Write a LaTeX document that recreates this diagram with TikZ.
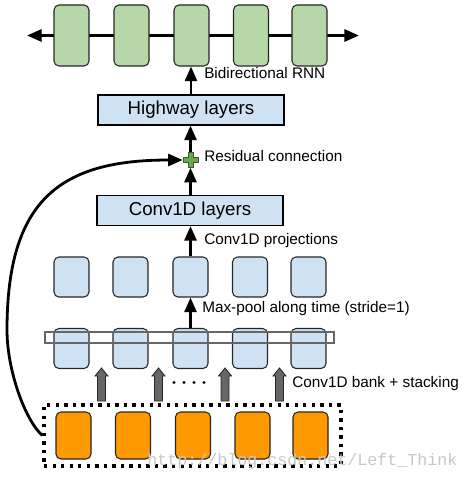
\documentclass[tikz,border=0pt]{standalone}
\usepackage{fontspec}
\setmainfont{Liberation Sans}
\newfontfamily\wmfont{Liberation Mono}
\usetikzlibrary{arrows.meta}
\definecolor{rnngreen}{HTML}{B6D7A8}
\definecolor{convblue}{HTML}{CFE2F3}
\definecolor{embor}{HTML}{FF9900}
\definecolor{pluscol}{HTML}{6AA84F}
\definecolor{bankgray}{HTML}{666666}
\begin{document}
\begin{tikzpicture}[x=0.75pt,y=-0.75pt,
  cell/.style={draw=black!85, line width=0.8pt, rounded corners=3.75pt,
    minimum width=26.25pt, inner sep=0pt},
  rnncell/.style={cell, fill=rnngreen, minimum height=45.75pt},
  blucell/.style={cell, fill=convblue, minimum height=30pt},
  orcell/.style={cell, fill=embor, minimum height=35.25pt},
  layer/.style={draw=black, line width=0.8pt, fill=convblue,
    minimum width=139.5pt, minimum height=22.5pt, inner sep=0pt,
    font=\fontsize{14}{16}\selectfont},
  lab/.style={font=\fontsize{11.5}{13}\selectfont, anchor=west, inner sep=0pt},
  tip/.style={-{Triangle[length=11pt,width=9pt]}},
  flow/.style={line width=2.1pt, tip},
]
\useasboundingbox (0,0) rectangle (468,481);

% RNN row line
\coordinate (rl) at (27,35.5);
\coordinate (rr) at (359,35.5);
\draw[line width=2.25pt, {Triangle[length=11pt,width=9pt]}-{Triangle[length=11pt,width=9pt]}] (rl) -- (rr);

% RNN cells
\node[rnncell] (g1) at (71.5,35.5) {};
\node[rnncell] (g2) at (131.5,35.5) {};
\node[rnncell] (g3) at (191.5,35.5) {};
\node[rnncell] (g4) at (251,35.5) {};
\node[rnncell] (g5) at (309.5,35.5) {};

% layers
\node[layer] (hw) at (191,110) {Highway layers};
\node[layer] (c1) at (190,210.5) {Conv1D layers};

% plus
\node[minimum size=11.25pt, inner sep=0pt] (plus) at (190.5,160) {};
\filldraw[shift={(plus)}, fill=pluscol, draw=pluscol!55!black, line width=0.5pt]
  (-2.5,-7.5) -- (2.5,-7.5) -- (2.5,-2.5) -- (7.5,-2.5) -- (7.5,2.5) -- (2.5,2.5)
  -- (2.5,7.5) -- (-2.5,7.5) -- (-2.5,2.5) -- (-7.5,2.5) -- (-7.5,-2.5) -- (-2.5,-2.5) -- cycle;

% upper blue row
\node[blucell] (u1) at (71.5,277) {};
\node[blucell] (u2) at (130.5,277) {};
\node[blucell] (u3) at (190.5,277) {};
\node[blucell] (u4) at (250,277) {};
\node[blucell] (u5) at (308.5,277) {};

% lower blue row
\node[blucell] (l1) at (71.5,348.5) {};
\node[blucell] (l2) at (130.5,348.5) {};
\node[blucell] (l3) at (190.5,348.5) {};
\node[blucell] (l4) at (250,348.5) {};
\node[blucell] (l5) at (308.5,348.5) {};
\node[draw=black!60, line width=0.8pt, minimum width=216.75pt, minimum height=8.25pt,
  inner sep=0pt] (pool) at (189.5,337.5) {};

% bank arrows
\foreach \cx in {101.5,158.5,225,279.5}
  \filldraw[fill=bankgray, draw=black!85, line width=0.6pt]
    (\cx-4,401) -- (\cx-4,376) -- (\cx-6.5,376) -- (\cx,368) -- (\cx+6.5,376)
    -- (\cx+4,376) -- (\cx+4,401) -- cycle;
\foreach \dx in {174,184,194,204}
  \fill (\dx,382.5) circle (1.2pt);

% embeddings
\node[draw, line width=2.5pt, dash pattern=on 2.5pt off 3.9pt, minimum width=222.75pt,
  minimum height=45.75pt, inner sep=0pt] (emb) at (192.5,435.5) {};
\node[orcell] (o1) at (73.5,435.5) {};
\node[orcell] (o2) at (133,435.5) {};
\node[orcell] (o3) at (193,435.5) {};
\node[orcell] (o4) at (252.5,435.5) {};
\node[orcell] (o5) at (310.5,435.5) {};

% flow arrows
\draw[flow] (hw.north) -- (hw.north |- g3.south);
\draw[flow] (plus.north) -- (plus.north |- hw.south);
\draw[flow] (c1.north -| plus) -- (plus.south);
\draw[flow] (u3.north) -- (u3.north |- c1.south);
\draw[flow] (l3.north) -- (u3.south);

% residual
\coordinate (via) at (7,330);
\draw[flow] (emb.west) .. controls (25,420) and (7,370) .. (via)
  .. controls (7,200) and (60,160) .. (plus.west);

% labels
\node[lab] (lrnn) at (204,73) {Bidirectional RNN};
\node[lab] (lres) at (204,156) {Residual connection};
\node[lab] (lproj) at (204,241) {Conv1D projections};
\node[lab] (lpool) at (202,309) {Max-pool along time (stride=1)};
\node[lab] (lbank) at (292,384) {Conv1D bank + stacking};

\node[anchor=west, inner sep=0pt, text=black!22, font=\wmfont\fontsize{12.5}{14}\selectfont]
  (wm) at (147,461) {http://blog.csdn.net/Left\_Think};
\end{tikzpicture}
\end{document}
